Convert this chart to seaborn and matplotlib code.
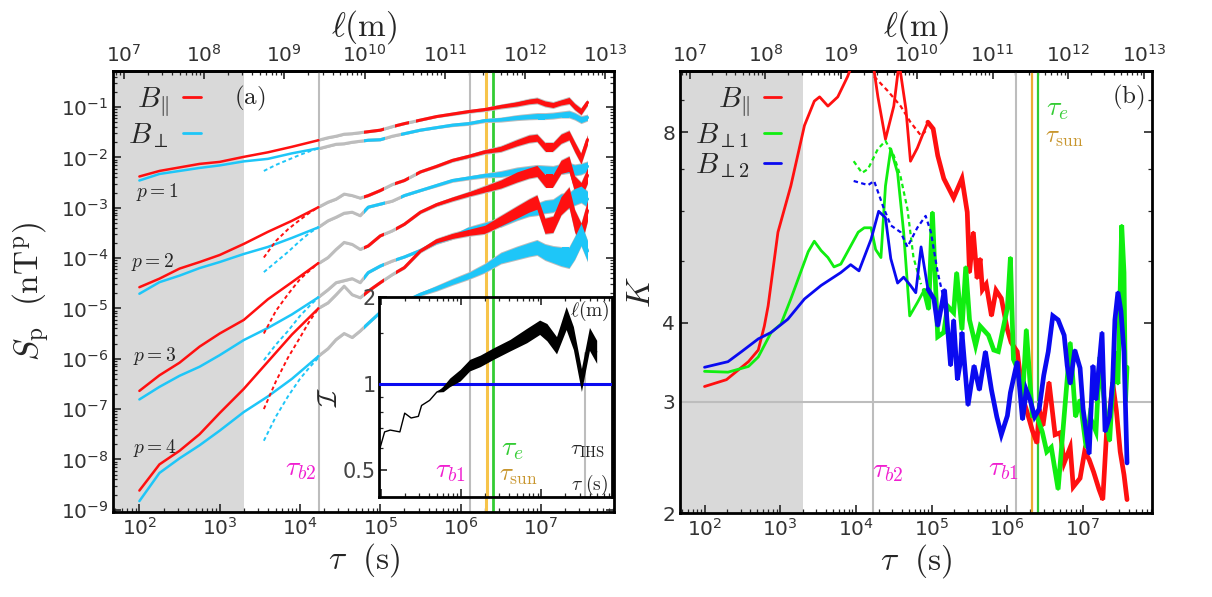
import numpy as np
import matplotlib
matplotlib.use('Agg')
import matplotlib.pyplot as plt
import seaborn as sns
from matplotlib.path import Path
from matplotlib.lines import Line2D
from matplotlib.transforms import blended_transform_factory
from matplotlib.ticker import (FixedLocator, FixedFormatter, LogLocator, NullFormatter,
                               LogFormatterSciNotation)

# characteristic scales (s)
TAU_B2 = 1.7e4
TAU_B1 = 1.3e6
TAU_SUN = 2.1e6
TAU_E = 2.5e6
TAU_IHS = 3.5e7
TAU_SHADE = 2.0e3
V_SW = 1.57e5  # tau -> ell (m)
XMIN, XMAX = 10 ** 1.677, 10 ** 7.91
TAU_TICKS = [1e2, 1e3, 1e4, 1e5, 1e6, 1e7]
ELL_TICKS = [1e7, 1e8, 1e9, 1e10, 1e11, 1e12, 1e13]
S_TICKS = [1e-9, 1e-8, 1e-7, 1e-6, 1e-5, 1e-4, 1e-3, 1e-2, 1e-1]

# ---- panel (a): log10(tau) and log10(S_p), first interval
TAU_EARLY = [2.0, 2.25, 2.5, 2.75, 3.0, 3.3, 3.6, 3.9, 4.23]
P1_PAR = [-2.38, -2.27, -2.2, -2.13, -2.09, -1.99, -1.9, -1.79, -1.66]
P1_PERP = [-2.46, -2.33, -2.27, -2.21, -2.16, -2.08, -2.03, -1.92, -1.82]
P2_PAR = [-4.58, -4.41, -4.21, -4.08, -3.94, -3.72, -3.48, -3.26, -2.99]
P2_PERP = [-4.71, -4.48, -4.35, -4.2, -4.08, -3.92, -3.78, -3.6, -3.39]
P3_PAR = [-6.64, -6.33, -6.08, -5.76, -5.5, -5.23, -4.82, -4.48, -4.1]
P3_PERP = [-6.81, -6.56, -6.34, -6.16, -5.93, -5.63, -5.39, -5.12, -4.78]
P4_PAR = [-8.62, -8.1, -7.83, -7.5, -7.08, -6.6, -6.06, -5.52, -5.0]
P4_PERP = [-8.83, -8.27, -7.98, -7.72, -7.43, -7.06, -6.75, -6.4, -5.95]

# second data set (dashed)
TAU_DASH = [3.55, 3.7, 3.85, 4.0, 4.12, 4.23]
P1_PERP_D = [-2.27, -2.15, -2.05, -1.95, -1.88, -1.82]
P2_PAR_D = [-3.99, -3.66, -3.43, -3.24, -3.1, -2.99]
P2_PERP_D = [-4.28, -4.08, -3.88, -3.66, -3.5, -3.39]
P3_PAR_D = [-5.5, -5.05, -4.72, -4.42, -4.25, -4.1]
P3_PERP_D = [-6.03, -5.72, -5.45, -5.15, -4.95, -4.78]
P4_PAR_D = [-7.0, -6.45, -5.98, -5.58, -5.25, -5.0]
P4_PERP_D = [-7.63, -7.15, -6.75, -6.4, -6.17, -5.98]

# long interval (gray where data gaps, coloured elsewhere)
TAU_LATE = [4.23, 4.35, 4.45, 4.55, 4.65, 4.75, 4.85, 5.0, 5.15, 5.3, 5.5, 5.7, 5.9,
            6.1, 6.3, 6.5, 6.7, 6.85, 6.95, 7.05, 7.15, 7.25, 7.35, 7.42, 7.5, 7.58]
P1_PAR_L = [-1.66, -1.61, -1.58, -1.54, -1.53, -1.51, -1.49, -1.46, -1.39, -1.33, -1.26, -1.19, -1.14,
            -1.09, -1.05, -0.99, -0.94, -0.89, -0.87, -0.93, -0.96, -0.91, -0.87, -0.99, -1.09, -0.91]
P1_PERP_L = [-1.83, -1.78, -1.74, -1.73, -1.7, -1.68, -1.66, -1.65, -1.58, -1.53, -1.46, -1.41, -1.36,
             -1.33, -1.27, -1.25, -1.21, -1.19, -1.18, -1.18, -1.17, -1.15, -1.14, -1.18, -1.25, -1.21]
P2_PAR_L = [-2.99, -2.89, -2.83, -2.73, -2.76, -2.81, -2.76, -2.66, -2.54, -2.46, -2.29, -2.18, -2.06,
            -1.98, -1.89, -1.83, -1.71, -1.63, -1.61, -1.79, -1.79, -1.63, -1.56, -1.79, -2.03, -1.65]
P2_PERP_L = [-3.39, -3.26, -3.19, -3.11, -3.09, -3.16, -2.99, -2.93, -2.87, -2.76, -2.66, -2.56, -2.46,
             -2.41, -2.36, -2.33, -2.27, -2.25, -2.23, -2.25, -2.26, -2.23, -2.21, -2.25, -2.23, -2.18]
P3_PAR_L = [-4.11, -3.99, -3.83, -3.69, -3.73, -3.83, -3.76, -3.56, -3.46, -3.33, -3.09, -2.94, -2.83,
            -2.73, -2.63, -2.53, -2.39, -2.31, -2.27, -2.46, -2.46, -2.19, -2.13, -2.53, -2.66, -2.36]
P3_PERP_L = [-4.78, -4.63, -4.49, -4.45, -4.41, -4.49, -4.29, -4.16, -4.06, -3.98, -3.85, -3.69, -3.58,
             -3.43, -3.36, -3.29, -3.14, -3.06, -3.03, -2.98, -2.96, -2.86, -2.86, -2.78, -2.73, -2.83]
P4_PAR_L = [-5.0, -4.89, -4.73, -4.56, -4.73, -4.79, -4.66, -4.49, -4.33, -4.19, -3.86, -3.66, -3.56,
            -3.49, -3.43, -3.26, -3.09, -2.96, -2.89, -3.36, -3.33, -2.96, -2.79, -3.26, -3.53, -3.06]
P4_PERP_L = [-5.95, -5.8, -5.62, -5.5, -5.58, -5.45, -5.3, -5.08, -5.0, -4.87, -4.72, -4.6, -4.47,
             -4.35, -4.2, -4.0, -3.9, -3.83, -3.79, -3.88, -3.93, -3.97, -3.99, -3.8, -3.53, -3.86]
# scatter half-width of the noisy part (decades)
W_P1 = [0, 0, 0, 0, 0, 0, 0, 0, 0, 0, 0, 0, 0.01, 0.015, 0.02, 0.03, 0.04, 0.045, 0.05, 0.05, 0.05,
        0.05, 0.06, 0.06, 0.06, 0.05]
W_P2 = [0, 0, 0, 0, 0, 0, 0, 0, 0, 0, 0, 0.01, 0.015, 0.02, 0.03, 0.05, 0.06, 0.07, 0.07, 0.08, 0.08,
        0.09, 0.09, 0.1, 0.1, 0.09]
W_P3 = [0, 0, 0, 0, 0, 0, 0, 0, 0, 0, 0.01, 0.02, 0.03, 0.04, 0.06, 0.08, 0.1, 0.1, 0.11, 0.12, 0.12,
        0.13, 0.15, 0.16, 0.16, 0.15]
W_P4 = [0, 0, 0, 0, 0, 0, 0, 0, 0, 0.01, 0.02, 0.04, 0.05, 0.06, 0.08, 0.1, 0.12, 0.13, 0.14, 0.15, 0.16,
        0.18, 0.2, 0.22, 0.22, 0.2]
# coloured stretches (log10 tau)
SEG_PAR = [(4.8, 5.04), (5.18, 5.36), (5.45, 7.6)]
SEG_PERP = [(4.8, 5.06), (5.26, 7.6)]
SEG_P34 = [(4.8, 5.05), (5.19, 7.6)]
P_LABELS = ['$p=1$', '$p=2$', '$p=3$', '$p=4$']

# ---- inset: intermittency index
IN_T = [4.99, 5.05, 5.12, 5.24, 5.3, 5.38, 5.47, 5.51, 5.61, 5.7, 5.78, 5.86, 5.99, 6.11, 6.24, 6.4,
        6.61, 6.82, 6.98, 7.07, 7.19, 7.31, 7.4, 7.5, 7.6, 7.69]
IN_V = [0.594, 0.68, 0.69, 0.68, 0.79, 0.76, 0.77, 0.84, 0.875, 0.935, 0.96, 1.01, 1.07, 1.16, 1.2, 1.27,
        1.36, 1.47, 1.57, 1.51, 1.36, 1.69, 1.44, 1.03, 1.43, 1.29]
IN_W = [0, 0, 0, 0, 0, 0, 0, 0, 0, 0, 0.01, 0.015, 0.02, 0.02, 0.02, 0.02, 0.02, 0.025, 0.025, 0.03,
        0.03, 0.04, 0.04, 0.04, 0.04, 0.04]

# ---- panel (b): kurtosis
RK_T = [2.0, 2.29, 2.58, 2.71, 2.79, 2.84, 2.97, 3.14, 3.32, 3.45, 3.52, 3.63, 3.76, 3.89, 3.97, 4.1,
        4.22, 4.29, 4.39, 4.5, 4.57, 4.66, 4.72, 4.81, 4.89, 4.95, 5.02, 5.08, 5.16, 5.29, 5.4, 5.47,
        5.5, 5.55, 5.6, 5.64, 5.67, 5.72, 5.79, 5.85, 5.92, 6.0, 6.05, 6.13, 6.17, 6.21, 6.26, 6.33,
        6.39, 6.42, 6.47, 6.55, 6.63, 6.7, 6.75, 6.83, 6.87, 6.96, 7.02, 7.08, 7.14, 7.21, 7.26, 7.31,
        7.35, 7.39, 7.44, 7.49, 7.54, 7.58]
RK = [3.17, 3.25, 3.47, 3.62, 3.95, 4.25, 5.56, 6.58, 8.2, 8.96, 9.1, 8.8, 9.1, 9.8, 10.4, 11.0,
      10.4, 9.1, 7.8, 8.8, 10.3, 8.7, 7.2, 7.55, 7.98, 8.3, 8.1, 7.35, 6.76, 6.3, 6.76, 5.98,
      4.8, 5.56, 4.7, 5.05, 4.51, 4.6, 4.1, 4.5, 4.37, 3.9, 3.72, 3.6, 3.3, 3.02, 2.89, 2.7,
      2.58, 2.92, 2.75, 3.22, 2.66, 2.68, 2.4, 2.54, 2.2, 2.27, 2.5, 2.43, 2.32, 2.18, 2.1, 2.68,
      2.85, 3.22, 2.9, 2.5, 2.3, 2.1]
RD_T = [4.24, 4.42, 4.59, 4.72, 4.86, 4.95]
RD_K = [9.8, 9.3, 8.8, 8.3, 7.9, 8.1]
GK_T = [2.0, 2.31, 2.58, 2.71, 2.88, 3.01, 3.14, 3.24, 3.37, 3.45, 3.54, 3.63, 3.71, 3.8, 3.89, 4.03,
        4.11, 4.2, 4.26, 4.33, 4.39, 4.46, 4.55, 4.63, 4.71, 4.81, 4.9, 4.96, 5.01, 5.08, 5.16, 5.21,
        5.29, 5.33, 5.4, 5.45, 5.5, 5.58, 5.64, 5.75, 5.82, 5.88, 6.0, 6.04, 6.08, 6.13, 6.2, 6.25,
        6.33, 6.39, 6.46, 6.52, 6.58, 6.67, 6.75, 6.83, 6.9, 6.96, 7.04, 7.09, 7.17, 7.22, 7.29, 7.35,
        7.42, 7.46, 7.51, 7.54, 7.56, 7.58]
GK = [3.35, 3.34, 3.41, 3.53, 3.86, 3.98, 4.36, 4.7, 5.18, 5.38, 5.2, 5.07, 4.9, 4.95, 5.18, 5.56,
      5.65, 5.65, 5.22, 5.07, 6.58, 7.53, 6.9, 5.56, 4.1, 4.3, 4.5, 4.2, 5.98, 3.8, 3.86, 4.25,
      4.15, 4.8, 3.9, 4.9, 4.04, 3.68, 3.95, 3.82, 3.62, 3.6, 4.22, 5.07, 3.5, 3.39, 3.02, 3.9,
      2.85, 2.84, 2.69, 2.5, 2.54, 2.18, 2.85, 3.72, 2.84, 3.02, 2.54, 2.84, 2.69, 3.53, 2.92, 2.6,
      3.6, 3.2, 5.7, 4.8, 3.0, 3.4]
GD_T = [3.97, 4.08, 4.16, 4.29, 4.39, 4.5, 4.59, 4.68, 4.76, 4.86]
GD_K = [7.2, 6.9, 7.0, 7.53, 7.75, 7.35, 6.8, 6.05, 5.07, 4.6]
BK_T = [2.0, 2.31, 2.49, 2.71, 2.88, 3.1, 3.32, 3.54, 3.8, 3.93, 4.04, 4.2, 4.3, 4.39, 4.46, 4.55,
        4.63, 4.72, 4.79, 4.86, 4.95, 5.03, 5.08, 5.17, 5.25, 5.29, 5.34, 5.38, 5.4, 5.48, 5.56, 5.63,
        5.71, 5.79, 5.86, 5.92, 6.0, 6.04, 6.13, 6.2, 6.25, 6.3, 6.36, 6.42, 6.48, 6.54, 6.6, 6.67,
        6.75, 6.79, 6.83, 6.89, 6.96, 7.0, 7.08, 7.13, 7.17, 7.25, 7.29, 7.35, 7.39, 7.42, 7.46, 7.5,
        7.54, 7.58]
BK = [3.4, 3.47, 3.6, 3.77, 3.86, 4.05, 4.36, 4.58, 4.8, 4.94, 4.83, 5.42, 6.0, 5.86, 5.05, 4.62,
      4.72, 4.58, 4.46, 5.27, 4.52, 4.36, 3.95, 4.51, 3.42, 4.04, 3.25, 3.47, 3.86, 2.96, 3.42, 3.13,
      3.6, 3.13, 2.84, 2.66, 2.85, 3.1, 3.47, 2.81, 3.13, 3.02, 2.84, 2.92, 3.3, 3.6, 4.1, 4.04,
      3.82, 3.42, 3.2, 3.62, 3.39, 2.92, 2.48, 3.42, 3.02, 3.86, 2.69, 2.84, 3.22, 4.04, 4.47, 4.17,
      3.6, 2.4]
BD_T = [3.97, 4.16, 4.24, 4.36, 4.46, 4.59, 4.68, 4.81, 4.92, 4.99, 5.08, 5.16]
BD_K = [6.7, 6.6, 6.7, 6.1, 5.7, 5.56, 5.27, 5.65, 5.9, 5.56, 4.8, 4.36]

RED = '#ff1010'
SKY = '#1ec6f8'
GRAY = '#bdbdbd'
SHADE = '#d9d9d9'
MAG = '#f01fd0'
GRN_LINE = '#33cc33'
ORANGE = '#f7c44a'
SUN_TXT = '#c8962e'
K_GREEN = '#10ee10'
K_BLUE = '#0a0af0'

sns.set_theme(style='ticks')
plt.rcParams['font.family'] = ['DejaVu Sans']
plt.rcParams['mathtext.fontset'] = 'cm'
plt.rcParams['axes.unicode_minus'] = False
plt.rcParams['xtick.direction'] = 'in'
plt.rcParams['ytick.direction'] = 'in'
plt.rcParams['axes.linewidth'] = 2.0
plt.rcParams['axes.edgecolor'] = 'black'

TICK_SIZE = 14.5
MINOR_LOG = LogLocator(base=10, subs=np.arange(2, 10), numticks=30)


def lg(v):
    return 10 ** np.asarray(v, dtype=float)


def seg_clip(ax, segs):
    verts, codes = [], []
    for a, b in segs:
        verts += [(10 ** a, -0.1), (10 ** b, -0.1), (10 ** b, 1.1), (10 ** a, 1.1), (10 ** a, -0.1)]
        codes += [Path.MOVETO, Path.LINETO, Path.LINETO, Path.LINETO, Path.CLOSEPOLY]
    return Path(verts, codes), blended_transform_factory(ax.transData, ax.transAxes)


def style_ticks(ax):
    ax.xaxis.set_major_locator(FixedLocator(TAU_TICKS))
    ax.xaxis.set_major_formatter(LogFormatterSciNotation())
    ax.xaxis.set_minor_locator(LogLocator(base=10, subs=np.arange(2, 10), numticks=30))
    ax.xaxis.set_minor_formatter(NullFormatter())
    ax.tick_params(which='major', length=6, width=1.2, labelsize=TICK_SIZE, labelcolor='#333333',
                   top=False, right=True)
    ax.tick_params(which='minor', length=3, width=0.9, top=False, right=True)


def top_axis(ax):
    sec = ax.secondary_xaxis('top', functions=(lambda t: t * V_SW, lambda l: l / V_SW))
    sec.xaxis.set_major_locator(FixedLocator(ELL_TICKS))
    sec.xaxis.set_major_formatter(LogFormatterSciNotation())
    sec.xaxis.set_minor_locator(LogLocator(base=10, subs=np.arange(2, 10), numticks=30))
    sec.xaxis.set_minor_formatter(NullFormatter())
    sec.tick_params(which='major', length=6, width=1.2, labelsize=TICK_SIZE, labelcolor='#333333',
                    direction='in')
    sec.tick_params(which='minor', length=3, width=0.9, direction='in')
    sec.set_xlabel(r'$\ell(\mathrm{m})$', fontsize=24, labelpad=6)


def late_curve(ax, s, w, segs, color):
    t = lg(TAU_LATE)
    s = np.asarray(s)
    w = np.asarray(w)
    ax.fill_between(t, lg(s - w - 0.02), lg(s + w + 0.02), color=GRAY, lw=0, zorder=2)
    ax.plot(t, lg(s), color=GRAY, lw=2.2, zorder=2)
    path, trans = seg_clip(ax, segs)
    band = ax.fill_between(t, lg(s - w), lg(s + w), color=color, lw=0, zorder=3)
    line, = ax.plot(t, lg(s), color=color, lw=2.2, zorder=3)
    band.set_clip_path(path, trans)
    line.set_clip_path(path, trans)


def kurt_curve(ax, t, k, color, z):
    t = np.asarray(t)
    k = np.asarray(k)
    sns.lineplot(x=lg(t), y=k, ax=ax, color=color, lw=2.0, zorder=z)
    noisy = t >= 4.9
    ax.plot(lg(t[noisy]), k[noisy], color=color, lw=3.4, zorder=z, solid_joinstyle='miter')


fig = plt.figure(figsize=(12.12, 5.97), dpi=100)
ax1 = fig.add_axes([0.0936, 0.1424, 0.4130, 0.7387])
ax2 = fig.add_axes([0.5611, 0.1407, 0.3894, 0.7404])

# ================= panel (a)
ax1.set_xscale('log')
ax1.set_yscale('log')
ax1.set_xlim(XMIN, XMAX)
ax1.set_ylim(0.9e-9, 0.52)
ax1.axvspan(XMIN, TAU_SHADE, color=SHADE, lw=0, zorder=0)
for tv, c, lw in [(TAU_B2, GRAY, 1.5), (TAU_B1, GRAY, 1.5), (TAU_SUN, ORANGE, 2.2), (TAU_E, GRN_LINE, 2.0)]:
    ax1.axvline(tv, color=c, lw=lw, zorder=1)

early = [(P1_PAR, P1_PERP), (P2_PAR, P2_PERP), (P3_PAR, P3_PERP), (P4_PAR, P4_PERP)]
dashed = [(None, P1_PERP_D), (P2_PAR_D, P2_PERP_D), (P3_PAR_D, P3_PERP_D), (P4_PAR_D, P4_PERP_D)]
late = [(P1_PAR_L, P1_PERP_L, W_P1), (P2_PAR_L, P2_PERP_L, W_P2),
        (P3_PAR_L, P3_PERP_L, W_P3), (P4_PAR_L, P4_PERP_L, W_P4)]
for k in range(4):
    par, perp = early[k]
    sns.lineplot(x=lg(TAU_EARLY), y=lg(perp), ax=ax1, color=SKY, lw=1.8, zorder=4)
    sns.lineplot(x=lg(TAU_EARLY), y=lg(par), ax=ax1, color=RED, lw=1.8, zorder=4)
    dpar, dperp = dashed[k]
    ax1.plot(lg(TAU_DASH), lg(dperp), color=SKY, lw=1.4, ls=(0, (2, 1.5)), zorder=4)
    if dpar is not None:
        ax1.plot(lg(TAU_DASH), lg(dpar), color=RED, lw=1.4, ls=(0, (2, 1.5)), zorder=4)
    lpar, lperp, w = late[k]
    late_curve(ax1, lpar, w, SEG_PAR if k < 2 else SEG_P34, RED)
    late_curve(ax1, lperp, w, SEG_PERP if k < 2 else SEG_P34, SKY)

style_ticks(ax1)
ax1.yaxis.set_major_locator(FixedLocator(S_TICKS))
ax1.yaxis.set_major_formatter(LogFormatterSciNotation())
ax1.yaxis.set_minor_locator(MINOR_LOG)
ax1.yaxis.set_minor_formatter(NullFormatter())
ax1.set_xlabel(r'$\tau\ \ (\mathrm{s})$', fontsize=24, labelpad=2)
ax1.set_ylabel(r'$S_{\rm p}\ \ (\mathrm{nT}^{\rm p})$', fontsize=24, labelpad=6)

for lab, (xa, ya) in zip(P_LABELS, [(0.087, 0.725), (0.079, 0.566), (0.083, 0.354), (0.083, 0.145)]):
    ax1.text(xa, ya, lab, transform=ax1.transAxes, fontsize=14, ha='center', va='center', zorder=6)
ax1.text(0.273, 0.937, r'$\mathrm{(a)}$', transform=ax1.transAxes, fontsize=18, ha='center', va='center')
ax1.text(0.373, 0.10, r'$\tau_{b2}$', transform=ax1.transAxes, fontsize=20, color=MAG, ha='center', va='center')
hand_a = [Line2D([], [], color=RED, lw=2), Line2D([], [], color=SKY, lw=2)]
ax1.legend(hand_a, [r'$B_{\|}$', r'$B_{\perp}$'], loc='upper left', bbox_to_anchor=(0.0, 1.0),
           frameon=False, markerfirst=False, fontsize=21, handlelength=0.6, handletextpad=0.5,
           labelspacing=0.05, borderaxespad=0.1)
top_axis(ax1)

# ---- inset
axi = fig.add_axes([0.3127, 0.1675, 0.1922, 0.3350])
axi.set_zorder(5)
axi.set_facecolor('white')
axi.set_xscale('log')
axi.set_yscale('log')
axi.set_xlim(10 ** 4.98, 10 ** 7.88)
axi.set_ylim(0.404, 2.0)
for tv, c, lw in [(TAU_B1, GRAY, 1.5), (TAU_SUN, ORANGE, 2.2), (TAU_E, GRN_LINE, 2.0)]:
    axi.axvline(tv, color=c, lw=lw, zorder=1)
axi.axvline(TAU_IHS, ymax=0.72, color=GRAY, lw=1.5, zorder=1)
axi.axhline(1.0, color=K_BLUE, lw=2.2, zorder=3)
iv = np.log10(IN_V)
iw = np.asarray(IN_W)
sns.lineplot(x=lg(IN_T), y=IN_V, ax=axi, color='black', lw=1.0, zorder=4)
axi.fill_between(lg(IN_T), lg(iv - iw), lg(iv + iw), color='black', lw=0, zorder=4)
axi.xaxis.set_major_locator(FixedLocator([1e5, 1e6, 1e7]))
axi.xaxis.set_minor_locator(LogLocator(base=10, subs=np.arange(2, 10), numticks=30))
axi.yaxis.set_major_locator(FixedLocator([0.5, 1, 2]))
axi.yaxis.set_major_formatter(FixedFormatter(['0.5', '1', '2']))
axi.yaxis.set_minor_locator(FixedLocator([0.6, 0.7, 0.8, 0.9, 1.5]))
axi.yaxis.set_minor_formatter(NullFormatter())
axi.xaxis.set_major_formatter(NullFormatter())
axi.xaxis.set_minor_formatter(NullFormatter())
axi.tick_params(which='major', length=6, width=1.2, labelsize=15, labelcolor='#444444',
                top=True, right=False, pad=2)
axi.tick_params(which='minor', length=3, width=0.9, top=True, right=False)
axi.set_ylabel(r'$\mathcal{I}$', fontsize=20, labelpad=0)
for side in axi.spines.values():
    side.set_linewidth(2.0)
axi.text(0.305, 0.135, r'$\tau_{b1}$', transform=axi.transAxes, fontsize=20, color=MAG, ha='center', va='center')
axi.text(0.571, 0.245, r'$\tau_e$', transform=axi.transAxes, fontsize=20, color=GRN_LINE, ha='center', va='center')
axi.text(0.60, 0.11, r'$\tau_{\rm sun}$', transform=axi.transAxes, fontsize=18, color=SUN_TXT, ha='center', va='center')
axi.text(0.893, 0.235, r'$\tau_{\rm IHS}$', transform=axi.transAxes, fontsize=15, ha='center', va='center')
axi.text(0.905, 0.93, r'$\ell(\mathrm{m})$', transform=axi.transAxes, fontsize=14, ha='center', va='center')
axi.text(0.905, 0.06, r'$\tau\ (\mathrm{s})$', transform=axi.transAxes, fontsize=14, ha='center', va='center')

# ================= panel (b)
ax2.set_xscale('log')
ax2.set_yscale('log')
ax2.set_xlim(XMIN, XMAX)
ax2.set_ylim(2, 10)
ax2.axvspan(XMIN, TAU_SHADE, color=SHADE, lw=0, zorder=0)
for tv, c, lw in [(TAU_B2, GRAY, 1.5), (TAU_B1, GRAY, 1.5), (TAU_SUN, '#eeaa33', 1.6), (TAU_E, GRN_LINE, 1.6)]:
    ax2.axvline(tv, color=c, lw=lw, zorder=1)
ax2.axhline(3, color=GRAY, lw=1.5, zorder=1)

kurt_curve(ax2, RK_T, RK, RED, 3)
ax2.plot(lg(RD_T), RD_K, color=RED, lw=1.6, ls=(0, (2, 1.5)), zorder=3)
kurt_curve(ax2, GK_T, GK, K_GREEN, 4)
ax2.plot(lg(GD_T), GD_K, color=K_GREEN, lw=1.6, ls=(0, (2, 1.5)), zorder=4)
kurt_curve(ax2, BK_T, BK, K_BLUE, 5)
ax2.plot(lg(BD_T), BD_K, color=K_BLUE, lw=1.6, ls=(0, (2, 1.5)), zorder=5)

style_ticks(ax2)
ax2.yaxis.set_major_locator(FixedLocator([2, 3, 4, 8]))
ax2.yaxis.set_major_formatter(FixedFormatter(['2', '3', '4', '8']))
ax2.yaxis.set_minor_locator(FixedLocator([5, 6, 7, 9]))
ax2.yaxis.set_minor_formatter(NullFormatter())
ax2.set_xlabel(r'$\tau\ \ (\mathrm{s})$', fontsize=24, labelpad=2)
ax2.set_ylabel(r'$K$', fontsize=24, labelpad=4)
ax2.text(0.439, 0.097, r'$\tau_{b2}$', transform=ax2.transAxes, fontsize=20, color=MAG, ha='center', va='center')
ax2.text(0.684, 0.102, r'$\tau_{b1}$', transform=ax2.transAxes, fontsize=20, color=MAG, ha='center', va='center')
ax2.text(0.80, 0.916, r'$\tau_e$', transform=ax2.transAxes, fontsize=20, color=GRN_LINE, ha='center', va='center')
ax2.text(0.815, 0.851, r'$\tau_{\rm sun}$', transform=ax2.transAxes, fontsize=18, color=SUN_TXT, ha='center', va='center')
ax2.text(0.949, 0.939, r'$\mathrm{(b)}$', transform=ax2.transAxes, fontsize=18, ha='center', va='center')
hand_b = [Line2D([], [], color=RED, lw=2), Line2D([], [], color=K_GREEN, lw=2), Line2D([], [], color=K_BLUE, lw=2)]
ax2.legend(hand_b, [r'$B_{\|}$', r'$B_{\perp 1}$', r'$B_{\perp 2}$'], loc='upper left',
           bbox_to_anchor=(0.0, 1.0), frameon=False, markerfirst=False, fontsize=21,
           handlelength=0.6, handletextpad=0.5, labelspacing=0.05, borderaxespad=0.1)
top_axis(ax2)

fig.savefig('out.png', dpi=100)
